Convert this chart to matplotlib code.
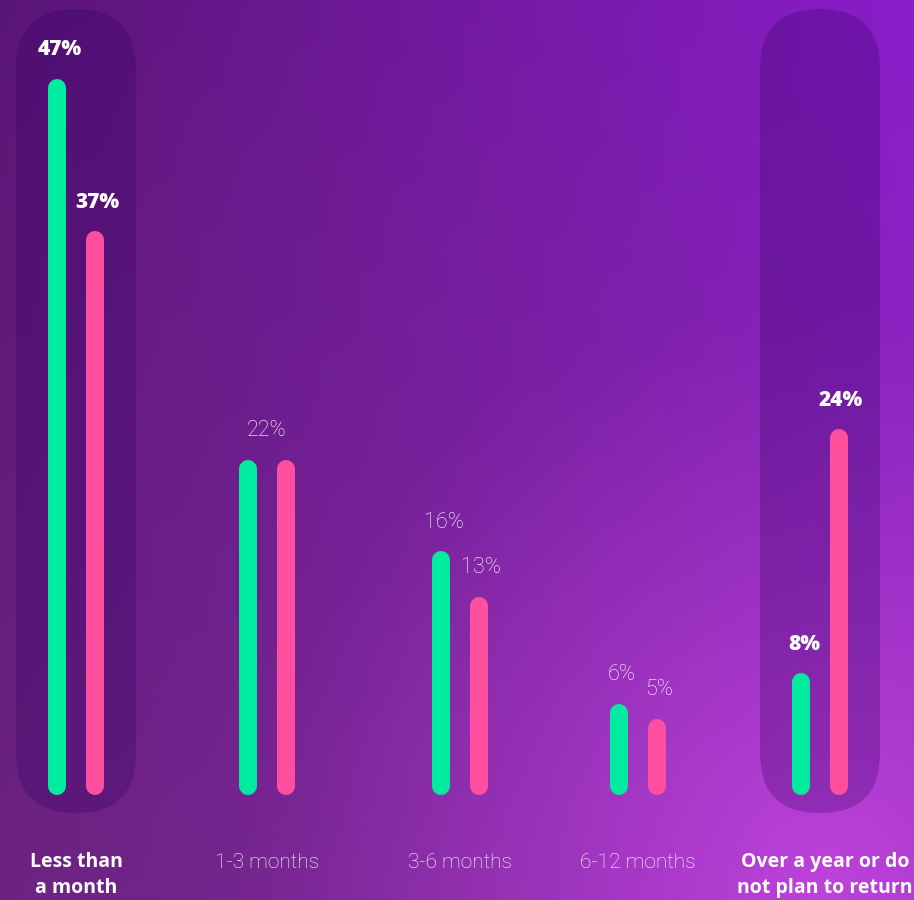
import numpy as np
import matplotlib.pyplot as plt
from matplotlib.patches import FancyBboxPatch
from matplotlib.colors import to_rgb

# data
categories = ["Less than\na month", "1-3 months", "3-6 months", "6-12 months",
              "Over a year or do\nnot plan to return"]
green_vals = [47, 22, 16, 6, 8]
pink_vals = [37, 22, 13, 5, 24]
highlight = [True, False, False, False, True]

# layout (pixels of a 914x900 canvas)
W, H = 914, 900
group_x = [76, 267, 460, 638, 820]
bar_off = 19
bar_w = 18
px_per_pct = 15.24
zero_px = 795

GREEN = "#00eba0"
PINK = "#ff4f9e"
BOLD_FONT = ["Open Sans", "DejaVu Sans"]
LIGHT_FONT = ["Roboto", "DejaVu Sans"]

fig = plt.figure(figsize=(W / 100, H / 100), dpi=100)

# background layer in pixel units
bg = fig.add_axes([0, 0, 1, 1])
bg.set_xlim(0, W)
bg.set_ylim(H, 0)
bg.axis("off")

yy, xx = np.mgrid[0:1:H * 1j, 0:1:W * 1j]
tl = np.array(to_rgb("#5a1676"))
tr = np.array(to_rgb("#8a1dca"))
bl = np.array(to_rgb("#6c2380"))
br = np.array(to_rgb("#8c2cb4"))
img = ((1 - xx)[..., None] * (1 - yy)[..., None] * tl
       + xx[..., None] * (1 - yy)[..., None] * tr
       + (1 - xx)[..., None] * yy[..., None] * bl
       + xx[..., None] * yy[..., None] * br)
# magenta glow bottom right
d = np.sqrt(((xx - 0.9) * 1.0) ** 2 + (yy - 0.98) ** 2)
glow = np.clip(1 - d / 0.65, 0, 1) ** 1.2
img = img * (1 - glow[..., None] * 0.85) + np.array(to_rgb("#c646e2")) * glow[..., None] * 0.85
bg.imshow(np.clip(img, 0, 1), extent=[0, W, H, 0], aspect="auto", zorder=0)

# highlight pills
for x, hl in zip(group_x, highlight):
    if hl:
        pill = FancyBboxPatch((x - 60, 9), 120, 804,
                              boxstyle="round,pad=0,rounding_size=60",
                              facecolor="#300060", alpha=0.28,
                              edgecolor="none", zorder=1)
        bg.add_patch(pill)

# category labels
for x, label, hl in zip(group_x, categories, highlight):
    if hl:
        tx = x + 5 if label.startswith("Over") else x
        bg.text(tx, 852, label, ha="center", va="top", color="white",
                fontsize=14, family=BOLD_FONT, fontweight="bold",
                linespacing=1.38)
    else:
        bg.text(x, 853, label, ha="center", va="top", color="white",
                fontsize=15, family=LIGHT_FONT, fontweight="light")

# data layer
ax = fig.add_axes([0, 0, 1, 1])
ax.set_xlim(0, W)
ax.set_ylim((zero_px - H) / px_per_pct, zero_px / px_per_pct)
ax.patch.set_alpha(0)
ax.axis("off")

cap = (bar_w / 2) / px_per_pct
lw = bar_w * 72 / 100

for x, g, p, hl in zip(group_x, green_vals, pink_vals, highlight):
    ax.plot([x - bar_off] * 2, [cap, g - cap], color=GREEN, lw=lw,
            solid_capstyle="round", zorder=3)
    ax.plot([x + bar_off] * 2, [cap, p - cap], color=PINK, lw=lw,
            solid_capstyle="round", zorder=3)
    if g == p:
        pts = [(x, g)]
    else:
        pts = [(x - bar_off + 3, g), (x + bar_off + 2, p)]
    for lx, v in pts:
        if hl:
            ax.annotate(f"{v}%", xy=(lx, v), xytext=(0, 29),
                        textcoords="offset pixels", ha="center", va="center",
                        color="white", fontsize=15, fontweight="heavy",
                        family=BOLD_FONT, zorder=4)
        else:
            ax.annotate(f"{v}%", xy=(lx, v), xytext=(0, 29),
                        textcoords="offset pixels", ha="center", va="center",
                        color="white", fontsize=15.5, fontweight="light",
                        family=LIGHT_FONT, zorder=4)

fig.savefig("out.png", dpi=100)
